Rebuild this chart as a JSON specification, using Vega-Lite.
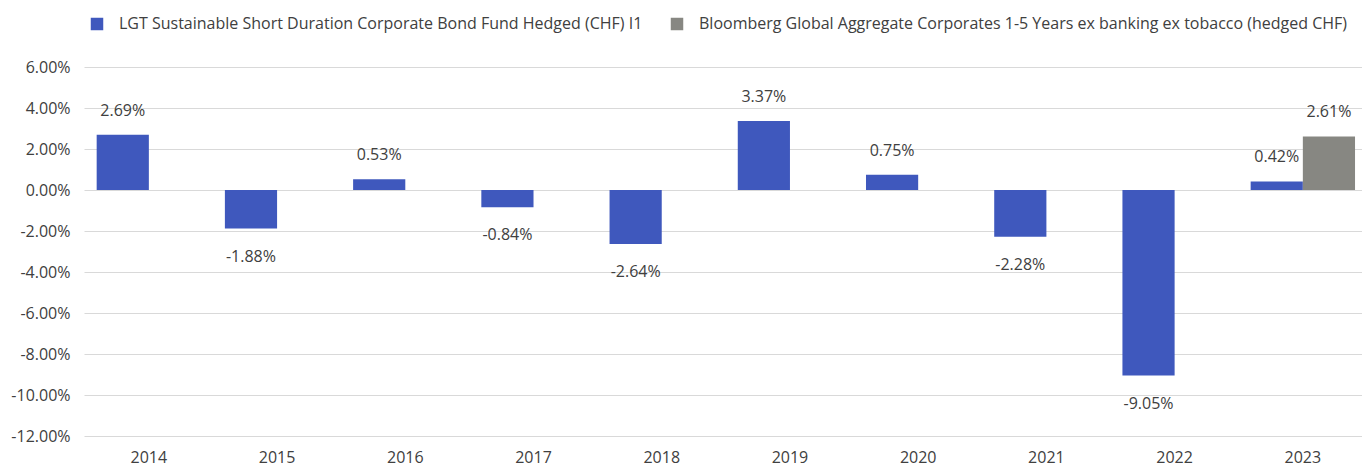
{
  "$schema": "https://vega.github.io/schema/vega-lite/v6.json",
  "width": 1278,
  "height": 369,
  "autosize": {"type": "none"},
  "padding": {"left": 84, "top": 67, "right": 0, "bottom": 32},
  "background": "white",
  "config": {
    "locale": {"number": {"decimal": ".", "thousands": ",", "grouping": [3], "currency": ["$", ""], "minus": "-"}},
    "font": "Open Sans",
    "view": {"stroke": null},
    "text": {"color": "#404040"}
  },
  "data": {
    "values": [
      {"year": "2014", "series": "LGT Sustainable Short Duration Corporate Bond Fund Hedged (CHF) I1", "value": 0.0269},
      {"year": "2015", "series": "LGT Sustainable Short Duration Corporate Bond Fund Hedged (CHF) I1", "value": -0.0188},
      {"year": "2016", "series": "LGT Sustainable Short Duration Corporate Bond Fund Hedged (CHF) I1", "value": 0.0053},
      {"year": "2017", "series": "LGT Sustainable Short Duration Corporate Bond Fund Hedged (CHF) I1", "value": -0.0084},
      {"year": "2018", "series": "LGT Sustainable Short Duration Corporate Bond Fund Hedged (CHF) I1", "value": -0.0264},
      {"year": "2019", "series": "LGT Sustainable Short Duration Corporate Bond Fund Hedged (CHF) I1", "value": 0.0337},
      {"year": "2020", "series": "LGT Sustainable Short Duration Corporate Bond Fund Hedged (CHF) I1", "value": 0.0075},
      {"year": "2021", "series": "LGT Sustainable Short Duration Corporate Bond Fund Hedged (CHF) I1", "value": -0.0228},
      {"year": "2022", "series": "LGT Sustainable Short Duration Corporate Bond Fund Hedged (CHF) I1", "value": -0.0905},
      {"year": "2023", "series": "LGT Sustainable Short Duration Corporate Bond Fund Hedged (CHF) I1", "value": 0.0042},
      {"year": "2023", "series": "Bloomberg Global Aggregate Corporates 1-5 Years ex banking ex tobacco (hedged CHF)", "value": 0.0261}
    ]
  },
  "encoding": {
    "x": {
      "field": "year",
      "type": "nominal",
      "scale": {"paddingInner": 0.186, "paddingOuter": 0.0766, "align": 0.645},
      "axis": {
        "title": null,
        "labelAngle": 0,
        "domain": false,
        "ticks": false,
        "labelFontSize": 16,
        "labelColor": "#404040",
        "labelBaseline": "middle",
        "labelPadding": 21,
        "grid": false
      }
    },
    "xOffset": {
      "field": "series",
      "scale": {
        "domain": [
          "LGT Sustainable Short Duration Corporate Bond Fund Hedged (CHF) I1",
          "Bloomberg Global Aggregate Corporates 1-5 Years ex banking ex tobacco (hedged CHF)"
        ],
        "paddingInner": 0,
        "paddingOuter": 0
      }
    },
    "y": {
      "field": "value",
      "type": "quantitative",
      "scale": {"domain": [-0.12, 0.06], "nice": false, "zero": false},
      "axis": {
        "title": null,
        "values": [-0.12, -0.1, -0.08, -0.06, -0.04, -0.02, 0, 0.02, 0.04, 0.06],
        "format": ".2%",
        "domain": false,
        "ticks": false,
        "grid": true,
        "gridColor": "#d9d9d9",
        "gridWidth": 1,
        "labelFontSize": 16,
        "labelColor": "#404040",
        "labelPadding": 14
      }
    }
  },
  "layer": [
    {
      "mark": {"type": "bar"},
      "encoding": {
        "color": {
          "field": "series",
          "type": "nominal",
          "scale": {
            "domain": [
              "LGT Sustainable Short Duration Corporate Bond Fund Hedged (CHF) I1",
              "Bloomberg Global Aggregate Corporates 1-5 Years ex banking ex tobacco (hedged CHF)"
            ],
            "range": ["#3f58bd", "#878782"]
          },
          "legend": {
            "title": null,
            "orient": "none",
            "direction": "horizontal",
            "legendX": 5,
            "legendY": -51,
            "symbolType": "square",
            "symbolSize": 156,
            "symbolStrokeWidth": 0,
            "symbolOpacity": 1,
            "labelFontSize": 16,
            "labelColor": "#404040",
            "labelOffset": 14,
            "columnPadding": 26,
            "labelLimit": 800
          }
        }
      }
    },
    {
      "transform": [{"filter": "datum.value >= 0"}],
      "mark": {"type": "text", "dy": -24, "baseline": "middle", "fontSize": 16, "color": "#404040"},
      "encoding": {"text": {"field": "value", "type": "quantitative", "format": ".2%"}}
    },
    {
      "transform": [{"filter": "datum.value < 0"}],
      "mark": {"type": "text", "dy": 28, "baseline": "middle", "fontSize": 16, "color": "#404040"},
      "encoding": {"text": {"field": "value", "type": "quantitative", "format": ".2%"}}
    }
  ]
}
